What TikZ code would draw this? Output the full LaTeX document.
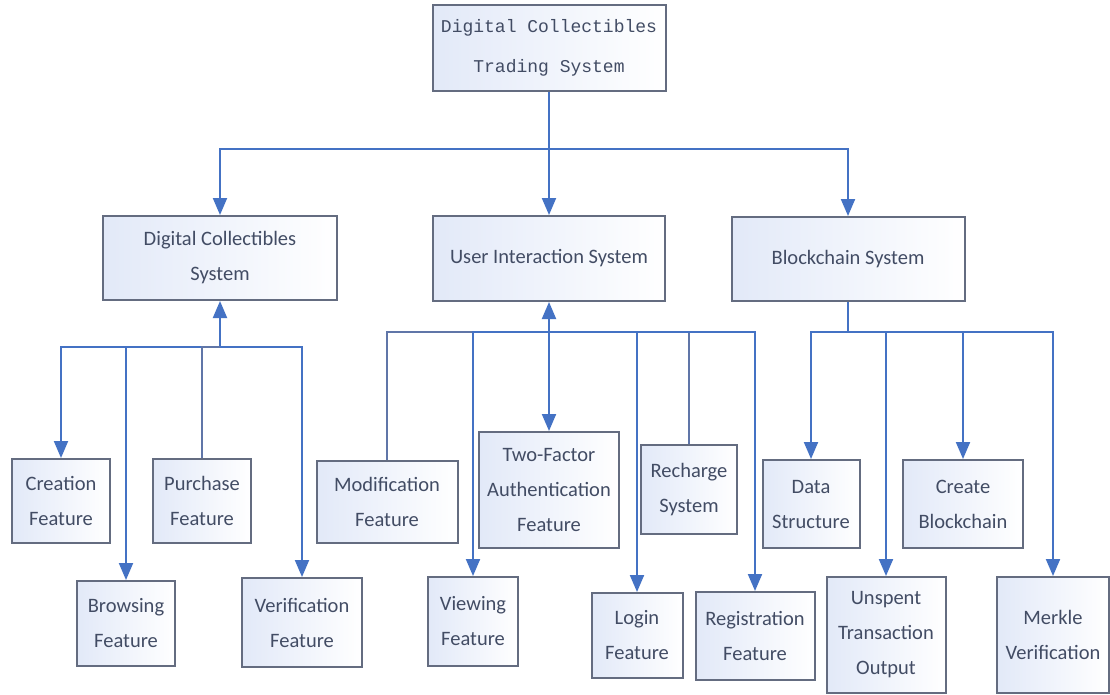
\documentclass[tikz,border=0pt]{standalone}
\usepackage{fontspec}
\setmainfont{Carlito}
\newfontfamily\monofont{Liberation Mono}
\usetikzlibrary{arrows.meta}

\definecolor{linkblue}{RGB}{68,114,196}
\definecolor{plainline}{RGB}{96,118,168}
\definecolor{boxedge}{RGB}{100,108,128}
\definecolor{boxtext}{RGB}{66,76,100}
\definecolor{boxtint}{RGB}{226,233,248}

\tikzset{
  box/.style={draw=boxedge, line width=2pt, left color=boxtint, right color=white,
    text=boxtext, align=center, inner sep=0pt,
    font=\fontsize{20.5}{35}\selectfont},
  titlebox/.style={box, font=\monofont\fontsize{18}{40}\selectfont},
  link/.style={draw=linkblue, line width=2pt},
  plain/.style={draw=plainline, line width=1.8pt},
  tip/.style={-{Triangle[width=14pt,length=17pt]}},
  bothtips/.style={{Triangle[width=14pt,length=17pt]}-{Triangle[width=14pt,length=17pt]}},
}

\begin{document}
\begin{tikzpicture}[x=1pt,y=-1pt]
\useasboundingbox (0,0) rectangle (1110,695);
\fill[white] (0,0) rectangle (1110,695);

% root
\node[titlebox, minimum width=233pt, minimum height=86pt] (root) at (549,48)
  {Digital Collectibles\\Trading System};

% subsystems
\node[box, minimum width=234pt, minimum height=84pt] (dcs) at (220,258)
  {Digital Collectibles\\System};
\node[box, minimum width=232pt, minimum height=85pt] (uis) at (549,258.5)
  {User Interaction System};
\node[box, minimum width=233pt, minimum height=84pt] (bcs) at (848,259)
  {Blockchain System};

% digital collectibles features
\node[box, minimum width=98pt, minimum height=84pt] (creation) at (61,501) {Creation\\Feature};
\node[box, minimum width=98pt, minimum height=84pt] (purchase) at (202,501) {Purchase\\Feature};
\node[box, minimum width=98pt, minimum height=85pt] (browsing) at (126,623.5) {Browsing\\Feature};
\node[box, minimum width=120pt, minimum height=89pt] (verif) at (302,622.5) {Verification\\Feature};

% user interaction features
\node[box, minimum width=141pt, minimum height=82pt] (modif) at (387,502) {Modification\\Feature};
\node[box, minimum width=90pt, minimum height=89pt] (viewing) at (473,621.5) {Viewing\\Feature};
\node[box, minimum width=140pt, minimum height=116pt] (twofa) at (549,490) {Two-Factor\\Authentication\\Feature};
\node[box, minimum width=91pt, minimum height=85pt] (login) at (637,635.5) {Login\\Feature};
\node[box, minimum width=96pt, minimum height=89pt] (recharge) at (689,489.5) {Recharge\\System};
\node[box, minimum width=119pt, minimum height=88pt] (regist) at (755,636) {Registration\\Feature};

% blockchain features
\node[box, minimum width=97pt, minimum height=88pt] (datastr) at (811,504) {Data\\Structure};
\node[box, minimum width=119pt, minimum height=116pt] (utxo) at (886,635) {Unspent\\Transaction\\Output};
\node[box, minimum width=120pt, minimum height=88pt] (create) at (963,504) {Create\\Blockchain};
\node[box, minimum width=112pt, minimum height=116pt] (merkle) at (1053,635) {Merkle\\Verification};

% root to subsystems
\coordinate (topbus) at (549,149);
\draw[link,tip] (root.south) -- (uis.north);
\draw[link,tip] (topbus) -| (dcs.north);
\draw[link,tip] (topbus) -| (bcs.north);

% digital collectibles branch
\coordinate (dcsbus) at (220,347);
\draw[link,tip] (dcsbus) -- (dcs.south);
\draw[link,tip] (dcsbus) -| (creation.north);
\draw[link,tip] (dcsbus) -| (browsing.north);
\draw[plain] (dcsbus) -| (purchase.north);
\draw[link,tip] (dcsbus) -| (verif.north);

% user interaction branch
\coordinate (uisbus) at (549,332);
\draw[link,bothtips] (uis.south) -- (twofa.north);
\draw[plain] (uisbus) -| (modif.north);
\draw[link,tip] (uisbus) -| (viewing.north);
\draw[link,tip] (uisbus) -| (login.north);
\draw[plain] (uisbus) -| (recharge.north);
\draw[link,tip] (uisbus) -| (regist.north);

% blockchain branch
\coordinate (bcsbus) at (848,332);
\draw[link] (bcs.south) -- (bcsbus);
\draw[link,tip] (bcsbus) -| (datastr.north);
\draw[link,tip] (bcsbus) -| (utxo.north);
\draw[link,tip] (bcsbus) -| (create.north);
\draw[link,tip] (bcsbus) -| (merkle.north);
\end{tikzpicture}
\end{document}
